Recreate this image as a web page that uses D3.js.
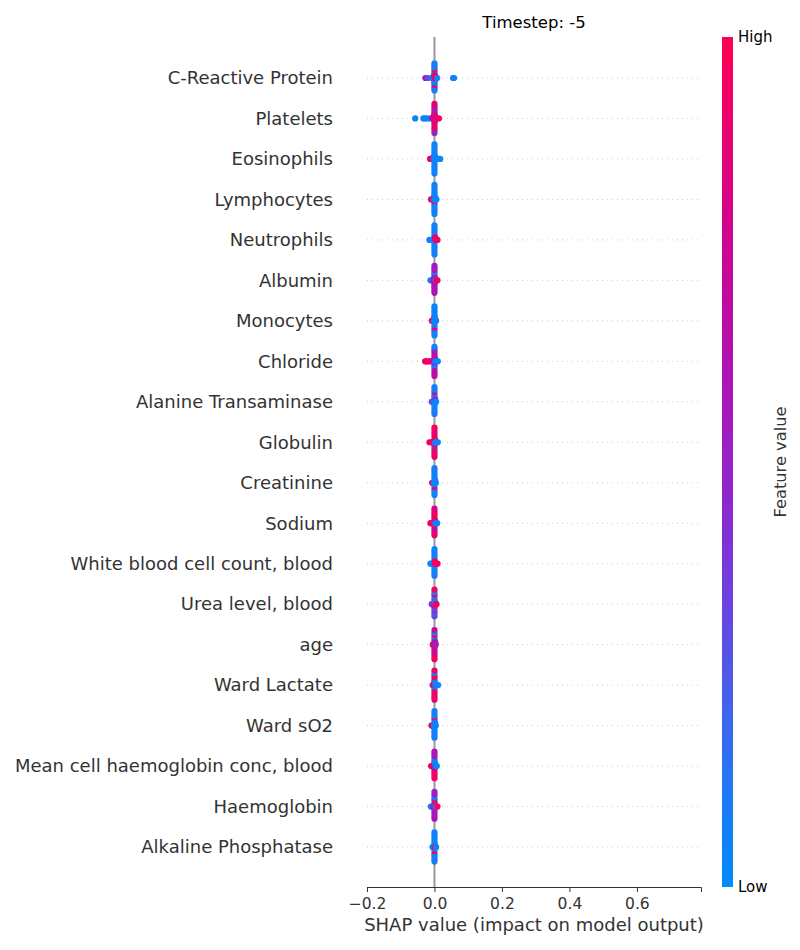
<!DOCTYPE html>
<html><head><meta charset="utf-8">
<script src="https://cdn.jsdelivr.net/npm/d3@7"></script>
<style>body{margin:0;background:#fff}svg{display:block}text{font-family:"DejaVu Sans",sans-serif}</style>
</head><body>
<svg id="c" width="800" height="950"></svg>
<script>
const title = "Timestep: -5";
const xTicks = [-0.2, 0.0, 0.2, 0.4, 0.6];
const features = ["C-Reactive Protein","Platelets","Eosinophils","Lymphocytes","Neutrophils","Albumin","Monocytes","Chloride","Alanine Transaminase","Globulin","Creatinine","Sodium","White blood cell count, blood","Urea level, blood","age","Ward Lactate","Ward sO2","Mean cell haemoglobin conc, blood","Haemoglobin","Alkaline Phosphatase"];
// [shap value, normalised feature value] per feature row
const rowCRP = [[0.058,.1],[0.055,.05],[-0.027,.6],[-0.02,.3],[-0.008,.05],[-0.004,.1],[-0.003,.05],[-0.002,.1],[-0.002,.95],[-0.001,.05],[-0.001,.9],[0,.05],[0,.95],[0,.1],[0,.05],[0,.9],[0,.1],[0,.05],[0,.95],[0,.05],[0,.1],[0,.9],[0,.05],[0,.05],[0,.1],[0.001,.95],[0.001,.9],[0.001,.1],[0.002,.95],[0.002,.9],[0.003,.95],[0.004,.9],[0.008,.05]];
const rowPlatelets = [[-0.057,.05],[-0.033,.05],[-0.028,.1],[-0.022,.05],[-0.012,.05],[-0.006,.5],[-0.003,.95],[-0.002,.7],[-0.002,.95],[-0.001,.5],[-0.001,.95],[0,.95],[0,.7],[0,.5],[0,.95],[0,.4],[0,.95],[0,.8],[0,.5],[0,.95],[0,.6],[0,.95],[0,.9],[0,.45],[0.001,.95],[0.001,.5],[0.001,.8],[0.002,.95],[0.002,.6],[0.003,.95],[0.006,.95],[0.013,.95]];
const rowEosinophils = [[-0.013,.95],[-0.011,.9],[-0.009,.95],[-0.007,.95],[-0.005,.8],[-0.004,.95],[-0.002,.05],[-0.002,.95],[-0.001,.05],[-0.001,.1],[0,.05],[0,.1],[0,.05],[0,.05],[0,.1],[0,.05],[0,.05],[0,.1],[0,.05],[0,.05],[0,.1],[0,.05],[0,.05],[0.001,.05],[0.001,.1],[0.002,.05],[0.002,.05],[0.004,.05],[0.008,.05],[0.013,.05],[0.017,.05]];
const rowLymphocytes = [[-0.01,.95],[-0.008,.95],[-0.005,.9],[-0.003,.95],[-0.002,.05],[-0.001,.05],[-0.001,.95],[0,.05],[0,.1],[0,.05],[0,.05],[0,.95],[0,.05],[0,.05],[0,.1],[0,.05],[0,.05],[0,.1],[0,.05],[0,.05],[0.001,.05],[0.001,.1],[0.002,.05],[0.002,.05],[0.003,.05],[0.006,.05]];
const rowNeutrophils = [[-0.015,.05],[-0.01,.05],[-0.006,.1],[-0.003,.05],[-0.002,.05],[-0.001,.05],[0,.05],[0,.1],[0,.05],[0,.05],[0,.1],[0,.05],[0,.05],[0,.1],[0,.05],[0,.05],[0,.1],[0,.05],[0,.05],[0.001,.05],[0.001,.1],[0.002,.05],[0.002,.9],[0.003,.95],[0.004,.95],[0.006,.9],[0.009,.95]];
const rowAlbumin = [[-0.012,.05],[-0.008,.1],[-0.004,.45],[-0.002,.55],[-0.001,.05],[-0.001,.6],[0,.6],[0,.55],[0,.65],[0,.05],[0,.6],[0,.5],[0,.6],[0,.1],[0,.55],[0,.65],[0,.6],[0,.5],[0,.6],[0,.55],[0.001,.6],[0.001,.05],[0.001,.65],[0.002,.55],[0.002,.6],[0.003,.05],[0.005,.95],[0.009,.9]];
const rowMonocytes = [[-0.008,.95],[-0.005,.9],[-0.003,.95],[-0.002,.05],[-0.001,.05],[-0.001,.9],[0,.05],[0,.1],[0,.05],[0,.95],[0,.05],[0,.05],[0,.1],[0,.05],[0,.9],[0,.05],[0,.1],[0,.05],[0,.05],[0.001,.05],[0.001,.1],[0.002,.05],[0.002,.05],[0.003,.05],[0.005,.05]];
const rowChloride = [[-0.028,.95],[-0.025,.95],[-0.021,.9],[-0.016,.95],[-0.011,.95],[-0.006,.9],[-0.003,.7],[-0.002,.6],[-0.001,.75],[0,.6],[0,.7],[0,.05],[0,.65],[0,.55],[0,.75],[0,.1],[0,.6],[0,.7],[0,.5],[0,.65],[0,.05],[0,.7],[0.001,.6],[0.001,.05],[0.002,.05],[0.002,.65],[0.004,.05],[0.007,.05],[0.01,.05]];
const rowALT = [[-0.008,.5],[-0.004,.05],[-0.002,.05],[-0.001,.7],[0,.05],[0,.1],[0,.05],[0,.6],[0,.05],[0,.05],[0,.1],[0,.8],[0,.05],[0,.05],[0,.1],[0,.05],[0.001,.05],[0.001,.1],[0.002,.05],[0.002,.4],[0.003,.05],[0.005,.05]];
const rowGlobulin = [[-0.015,.95],[-0.01,.9],[-0.005,.95],[-0.002,.95],[-0.001,.9],[0,.95],[0,.9],[0,.95],[0,.1],[0,.95],[0,.9],[0,.4],[0,.95],[0,.95],[0,.9],[0,.95],[0,.95],[0,.9],[0.001,.3],[0.001,.95],[0.002,.05],[0.002,.95],[0.003,.05],[0.006,.05],[0.01,.05]];
const rowCreatinine = [[-0.007,.95],[-0.004,.9],[-0.002,.05],[-0.001,.05],[0,.05],[0,.1],[0,.05],[0,.05],[0,.1],[0,.05],[0,.9],[0,.05],[0,.1],[0,.05],[0,.05],[0,.1],[0.001,.05],[0.001,.05],[0.002,.05],[0.002,.1],[0.004,.05]];
const rowSodium = [[-0.012,.95],[-0.008,.9],[-0.004,.95],[-0.002,.8],[-0.001,.95],[0,.95],[0,.8],[0,.95],[0,.7],[0,.95],[0,.9],[0,.6],[0,.95],[0,.85],[0,.95],[0,.9],[0,.8],[0.001,.95],[0.001,.3],[0.002,.05],[0.002,.9],[0.004,.05],[0.008,.05]];
const rowWBC = [[-0.012,.05],[-0.008,.05],[-0.004,.1],[-0.002,.05],[-0.001,.05],[0,.05],[0,.1],[0,.05],[0,.05],[0,.1],[0,.05],[0,.05],[0,.1],[0,.05],[0,.05],[0,.1],[0,.05],[0.001,.05],[0.001,.9],[0.002,.95],[0.003,.9],[0.005,.95],[0.009,.95]];
const rowUrea = [[-0.008,.5],[-0.005,.4],[-0.003,.3],[-0.002,.05],[-0.001,.35],[0,.3],[0,.05],[0,.95],[0,.35],[0,.9],[0,.05],[0,.3],[0,.95],[0,.4],[0,.05],[0,.3],[0,.95],[0.001,.35],[0.001,.9],[0.002,.3],[0.002,.05],[0.004,.9],[0.006,.95]];
const rowAge = [[-0.005,.95],[-0.003,.7],[-0.002,.9],[-0.001,.6],[0,.95],[0,.7],[0,.9],[0,.6],[0,.95],[0,.05],[0,.75],[0,.95],[0,.6],[0,.05],[0,.9],[0,.7],[0,.95],[0.001,.6],[0.001,.05],[0.002,.95],[0.002,.7],[0.004,.5]];
const rowLactate = [[-0.006,.05],[-0.003,.95],[-0.002,.95],[-0.001,.9],[0,.95],[0,.9],[0,.95],[0,.95],[0,.05],[0,.9],[0,.95],[0,.95],[0,.9],[0,.05],[0,.95],[0,.95],[0,.9],[0.001,.95],[0.001,.1],[0.002,.95],[0.003,.05],[0.006,.05],[0.011,.05]];
const rowSO2 = [[-0.009,.95],[-0.006,.95],[-0.003,.9],[-0.002,.05],[-0.001,.05],[0,.05],[0,.1],[0,.05],[0,.05],[0,.1],[0,.95],[0,.05],[0,.05],[0,.1],[0,.05],[0,.05],[0,.1],[0.001,.05],[0.001,.05],[0.002,.05],[0.002,.1],[0.004,.05]];
const rowMCHC = [[-0.01,.95],[-0.006,.9],[-0.003,.95],[-0.002,.6],[-0.001,.8],[0,.6],[0,.95],[0,.55],[0,.9],[0,.65],[0,.05],[0,.95],[0,.6],[0,.9],[0,.55],[0,.95],[0,.6],[0.001,.9],[0.001,.05],[0.002,.6],[0.002,.05],[0.004,.05],[0.007,.05]];
const rowHaemoglobin = [[-0.011,.05],[-0.007,.05],[-0.004,.5],[-0.002,.55],[-0.001,.05],[0,.55],[0,.5],[0,.6],[0,.05],[0,.55],[0,.5],[0,.6],[0,.05],[0,.55],[0,.5],[0,.6],[0,.55],[0.001,.5],[0.001,.95],[0.002,.05],[0.003,.95],[0.005,.05],[0.009,.95]];
const rowALP = [[-0.006,.05],[-0.003,.05],[-0.002,.05],[-0.001,.05],[0,.05],[0,.1],[0,.05],[0,.05],[0,.1],[0,.05],[0,.95],[0,.05],[0,.05],[0,.1],[0,.05],[0,.05],[0,.1],[0.001,.9],[0.001,.05],[0.002,.95],[0.003,.95],[0.005,.05]];
const rows = [rowCRP,rowPlatelets,rowEosinophils,rowLymphocytes,rowNeutrophils,rowAlbumin,rowMonocytes,rowChloride,rowALT,rowGlobulin,rowCreatinine,rowSodium,rowWBC,rowUrea,rowAge,rowLactate,rowSO2,rowMCHC,rowHaemoglobin,rowALP];
const colorStops = ["#008bfb","#1f79f6","#4660ec","#6a44e0","#8a2ad0","#a419bd","#bb0ca6","#d2058c","#e8026f","#ff0052"];

const svg = d3.select("#c");
const x = d3.scaleLinear().domain([-0.2, 0.79]).range([367, 701]);
const y = d3.scalePoint().domain(features).range([78, 847]);
const rowStep = y.step();
const color = d3.scaleLinear().domain(d3.range(colorStops.length).map(i => i / (colorStops.length - 1))).range(colorStops).interpolate(d3.interpolateRgb);
const axisY = 887;

// grid lines
svg.append("g").selectAll("line").data(features).join("line")
  .attr("x1", x.range()[0]).attr("x2", x.range()[1])
  .attr("y1", d => y(d)).attr("y2", d => y(d))
  .attr("stroke", "#ccc").attr("stroke-width", 1).attr("stroke-dasharray", "1,4");

// zero line
svg.append("line").attr("x1", x(0)).attr("x2", x(0)).attr("y1", 37).attr("y2", axisY)
  .attr("stroke", "#999").attr("stroke-width", 2);

// beeswarm layout (shap-style binning)
function swarm(pts) {
  const vals = pts.map(p => p[0]);
  const mn = d3.min(vals), mx = d3.max(vals);
  const q = vals.map(v => Math.round(100 * (v - mn) / (mx - mn + 1e-8)));
  const order = d3.range(pts.length).sort((a, b) => q[a] - q[b] || a - b);
  const ys = new Array(pts.length).fill(0);
  let layer = 0, last = -1;
  for (const i of order) {
    if (q[i] !== last) layer = 0;
    ys[i] = Math.ceil(layer / 2) * ((layer % 2) * 2 - 1);
    layer++; last = q[i];
  }
  const m = d3.max(ys, v => Math.abs(v)) || 1;
  return ys.map(v => v * 0.9 * (0.4 / m));
}

const dots = svg.append("g");
rows.forEach((pts, r) => {
  const off = swarm(pts);
  const cy = y(features[r]);
  dots.selectAll(null).data(pts.map((p, i) => ({s: p[0], f: p[1], o: off[i]}))).join("circle")
    .attr("cx", d => x(d.s)).attr("cy", d => cy - d.o * rowStep)
    .attr("r", 3.1).attr("fill", d => color(d.f));
});

// feature labels
svg.append("g").selectAll("text").data(features).join("text")
  .attr("x", 333).attr("y", d => y(d)).attr("dy", "0.35em")
  .attr("text-anchor", "end").attr("font-size", 18).attr("fill", "#333").text(d => d);

// x axis
const xa = svg.append("g").attr("transform", `translate(0,${axisY})`)
  .call(d3.axisBottom(x).tickValues(xTicks).tickFormat(d => d3.format(".1f")(d).replace("-", "\u2212")).tickSizeOuter(0).tickSize(5));
xa.select(".domain").attr("stroke", "#333");
xa.selectAll(".tick line").attr("stroke", "#333");
xa.selectAll(".tick text").attr("font-size", 15.5).attr("fill", "#333").attr("font-family", "DejaVu Sans").attr("dy", "0.9em");

svg.append("text").attr("x", (x.range()[0] + x.range()[1]) / 2).attr("y", 931)
  .attr("text-anchor", "middle").attr("font-size", 18).attr("fill", "#333")
  .text("SHAP value (impact on model output)");

svg.append("text").attr("x", (x.range()[0] + x.range()[1]) / 2).attr("y", 28)
  .attr("text-anchor", "middle").attr("font-size", 16.5).attr("fill", "#000").text(title);

// colorbar
const defs = svg.append("defs");
const grad = defs.append("linearGradient").attr("id", "cb").attr("x1", 0).attr("y1", 1).attr("x2", 0).attr("y2", 0);
grad.selectAll("stop").data(d3.range(0, 1.0001, 0.05)).join("stop")
  .attr("offset", d => d).attr("stop-color", d => color(d));
svg.append("rect").attr("x", 722).attr("y", 37).attr("width", 11).attr("height", axisY - 37).attr("fill", "url(#cb)");
svg.append("text").attr("x", 738).attr("y", 37).attr("dy", "0.35em").attr("font-size", 15).attr("fill", "#000").text("High");
svg.append("text").attr("x", 738).attr("y", axisY).attr("dy", "0.35em").attr("font-size", 15).attr("fill", "#000").text("Low");
svg.append("text").attr("transform", `translate(786,${(37 + axisY) / 2}) rotate(-90)`)
  .attr("text-anchor", "middle").attr("font-size", 16.3).attr("fill", "#333").text("Feature value");
</script>
</body></html>
